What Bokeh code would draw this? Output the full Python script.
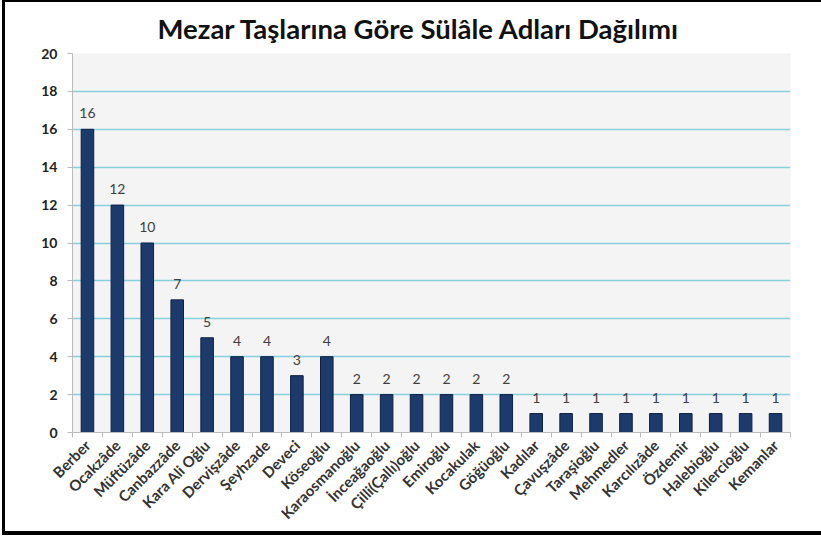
from math import pi
from bokeh.plotting import figure
from bokeh.models import ColumnDataSource, FixedTicker, Range1d, LabelSet
from bokeh.core.properties import value
from bokeh.embed import file_html
from bokeh.resources import INLINE

categories = ["Berber", "Ocakzâde", "Müftüzâde", "Canbazzâde", "Kara Ali Oğlu", "Dervişzâde",
              "Şeyhzade", "Deveci", "Köseoğlu", "Karaosmanoğlu", "İnceağaoğlu", "Çilli(Çallı)oğlu",
              "Emiroğlu", "Kocakulak", "Göğüoğlu", "Kadılar", "Çavuşzâde", "Taraşioğlu",
              "Mehmedler", "Karcılızâde", "Özdemir", "Halebioğlu", "Kilercioğlu", "Kemanlar"]
values = [16, 12, 10, 7, 5, 4, 4, 3, 4, 2, 2, 2, 2, 2, 2, 1, 1, 1, 1, 1, 1, 1, 1, 1]
y_ticks = [0, 2, 4, 6, 8, 10, 12, 14, 16, 18, 20]
title_text = "Mezar Taşlarına Göre Sülâle Adları Dağılımı"

n = len(categories)
xs = [i + 0.5 for i in range(n)]
src = ColumnDataSource(dict(x=xs, top=values, cat=categories, lbl=[str(v) for v in values]))

p = figure(width=816, height=529, output_backend="svg", toolbar_location=None,
           x_range=Range1d(0, n), y_range=Range1d(0, 20),
           min_border_left=67, min_border_right=31, min_border_top=51, min_border_bottom=99,
           background_fill_color="#f4f4f4", border_fill_color="white")
p.styles = {"margin-left": "5px", "margin-top": "2px",
            "box-shadow": "-3px -2px 0 0 black, -3px 4px 0 0 black, 0 -2px 0 0 black, 0 4px 0 0 black"}
p.outline_line_color = None

p.title.text = title_text
p.title.text_font = "Lato"
p.title.text_font_size = "27.5px"
p.title.text_font_style = "bold"
p.title.text_color = "#111111"
p.title.align = "left"
p.title.offset = 85
p.title.standoff = 14
p.title.vertical_align = "top"

p.vbar(x="x", top="top", width=0.42, source=src, fill_color="#1c3a6b",
       line_color="#0f2040", line_width=1)

labels = LabelSet(x="x", y="top", text="lbl", source=src, text_align="center",
                  text_baseline="bottom", y_offset=11, text_font=value("Lato"),
                  text_font_size="14px", text_color="#404040")
p.add_layout(labels)

# y axis
p.yaxis.ticker = FixedTicker(ticks=y_ticks)
p.yaxis.minor_tick_line_color = None
p.yaxis.major_tick_out = 5
p.yaxis.major_tick_in = 0
p.yaxis.axis_line_color = "#bbbbbb"
p.yaxis.major_tick_line_color = "#bbbbbb"
p.yaxis.major_label_text_font = "Lato"
p.yaxis.major_label_text_font_size = "14px"
p.yaxis.major_label_text_font_style = "bold"
p.yaxis.major_label_text_color = "#222222"
p.yaxis.major_label_standoff = 10

# x axis
p.xaxis.ticker = FixedTicker(ticks=xs, minor_ticks=list(range(n + 1)))
p.xaxis.major_label_overrides = {x: c for x, c in zip(xs, categories)}
p.xaxis.major_label_orientation = pi / 4
p.xaxis.major_tick_line_color = None
p.xaxis.minor_tick_line_color = "#bbbbbb"
p.xaxis.minor_tick_out = 5
p.xaxis.minor_tick_in = 0
p.xaxis.axis_line_color = "#bbbbbb"
p.xaxis.major_label_text_font = "Lato"
p.xaxis.major_label_text_font_size = "15px"
p.xaxis.major_label_text_font_style = "bold"
p.xaxis.major_label_text_color = "#333333"
p.xaxis.major_label_standoff = 4

p.xgrid.grid_line_color = None
p.ygrid.ticker = FixedTicker(ticks=y_ticks)
p.ygrid.grid_line_color = "#86cfdc"
p.ygrid.grid_line_width = 1.5

open("out.html", "w").write(file_html(p, INLINE))
